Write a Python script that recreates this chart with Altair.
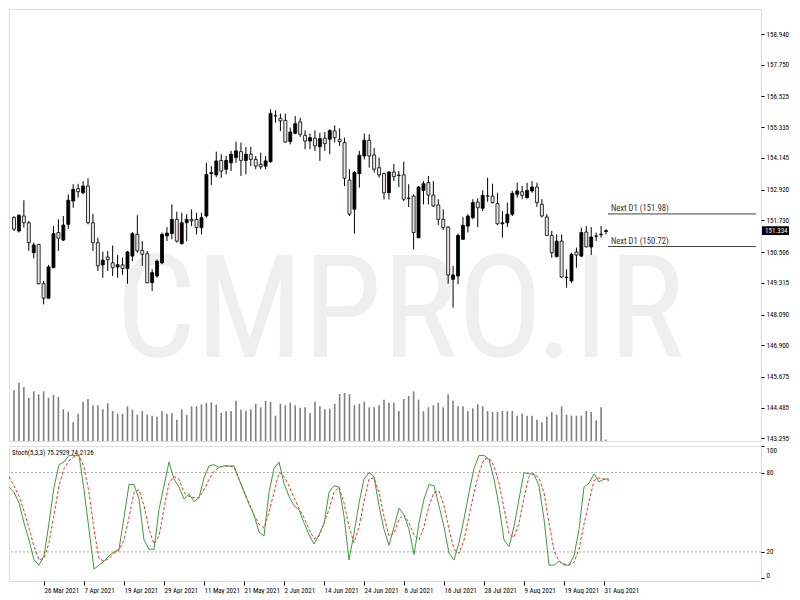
import altair as alt
import pandas as pd

# ---------------- data ----------------
OPEN = [151.84, 151.32, 151.90, 151.64, 150.48, 150.80, 149.28, 148.72, 149.90, 151.26,
        150.97, 151.58, 152.48, 152.96, 152.80, 153.06, 151.64, 150.87, 150.01, 150.31,
        150.09, 149.93, 150.01, 149.86, 150.35, 151.19, 150.57, 150.44, 149.32, 149.58,
        150.09, 151.13, 151.22, 151.77, 150.83, 151.64, 151.77, 151.77, 151.45, 151.90,
        153.54, 153.49, 154.05, 153.71, 153.96, 154.16, 154.39, 154.05, 154.29, 154.09,
        153.90, 153.83, 154.00, 155.77, 155.68, 155.60, 154.78, 155.10, 155.54, 155.02,
        154.80, 154.91, 154.58, 154.91, 154.87, 155.19, 154.87, 154.74, 153.29, 152.16,
        153.54, 154.22, 154.83, 154.26, 153.77, 153.54, 152.80, 153.60, 153.47, 153.49,
        152.59, 152.67, 151.06, 152.89, 153.19, 152.71, 152.33, 151.77, 151.47, 149.45,
        149.58, 151.00, 151.51, 151.84, 152.44, 152.20, 152.68, 152.67, 152.38, 151.60,
        151.64, 151.97, 152.74, 152.84, 152.61, 152.87, 153.02, 152.35, 151.86, 151.15,
        150.33, 150.93, 149.52, 149.39, 150.51, 150.35, 151.28, 150.70, 151.12, 151.18,
        151.30]
HIGH = [151.90, 151.97, 152.51, 151.71, 150.87, 150.81, 149.39, 150.01, 151.51, 151.77,
        151.90, 152.74, 153.13, 153.15, 153.25, 153.36, 151.99, 151.06, 150.52, 150.55,
        150.76, 150.39, 150.29, 150.55, 151.28, 151.93, 150.93, 150.55, 149.84, 150.22,
        151.26, 151.47, 152.35, 152.07, 152.03, 151.97, 152.16, 152.03, 152.03, 153.96,
        153.83, 154.39, 154.29, 154.22, 154.42, 154.78, 154.74, 154.57, 154.58, 154.22,
        154.35, 154.22, 156.03, 155.99, 155.86, 155.86, 155.32, 155.77, 155.70, 155.21,
        155.09, 155.21, 155.12, 155.15, 155.25, 155.41, 155.29, 154.93, 153.71, 153.64,
        154.42, 155.09, 155.06, 154.54, 154.16, 153.58, 153.64, 153.92, 153.64, 154.00,
        153.13, 152.74, 153.06, 153.25, 153.45, 153.25, 152.55, 152.16, 151.51, 149.97,
        151.22, 151.86, 151.97, 152.55, 152.58, 152.89, 153.38, 153.15, 152.80, 152.09,
        152.42, 152.87, 153.19, 153.06, 153.19, 153.25, 153.19, 152.55, 151.97, 151.32,
        151.19, 151.19, 149.84, 150.48, 150.68, 151.45, 151.51, 151.47, 151.26, 151.51,
        151.39]
LOW = [151.32, 151.26, 151.45, 150.55, 150.26, 149.26, 148.48, 148.70, 149.89, 150.55,
       150.93, 151.39, 152.22, 152.61, 152.74, 151.58, 150.55, 149.77, 149.51, 149.77,
       149.58, 149.51, 149.62, 149.28, 150.16, 150.48, 149.97, 149.30, 149.00, 149.51,
       150.03, 150.93, 151.00, 150.87, 150.80, 150.93, 151.51, 151.19, 151.19, 151.84,
       153.10, 153.41, 153.38, 153.51, 153.64, 153.96, 153.45, 153.51, 153.83, 153.71,
       153.71, 153.71, 153.96, 155.51, 155.19, 154.74, 154.67, 155.06, 154.96, 154.48,
       154.48, 154.42, 154.03, 154.42, 154.29, 154.74, 154.61, 153.06, 151.90, 151.22,
       153.00, 154.09, 153.77, 153.58, 153.38, 152.54, 152.54, 153.25, 153.02, 152.48,
       152.25, 150.61, 151.04, 152.35, 152.35, 152.25, 151.55, 151.35, 149.28, 148.35,
       149.26, 150.99, 151.26, 151.77, 151.47, 152.09, 152.45, 152.38, 151.55, 151.06,
       151.47, 151.90, 152.61, 152.55, 152.58, 152.80, 152.25, 151.84, 151.13, 150.29,
       150.29, 149.51, 149.13, 149.32, 149.90, 150.31, 150.68, 150.39, 150.93, 151.06,
       151.19]
CLOSE = [151.39, 151.93, 151.64, 150.87, 150.78, 149.28, 148.72, 149.93, 151.22, 151.04,
         151.55, 152.51, 152.93, 152.84, 153.06, 151.64, 150.87, 149.97, 150.19, 150.21,
         149.90, 150.02, 149.87, 150.51, 151.22, 150.55, 150.42, 149.32, 149.71, 150.16,
         151.19, 151.24, 151.77, 150.93, 151.64, 151.77, 151.71, 151.45, 151.84, 153.51,
         153.58, 154.03, 153.64, 154.05, 154.29, 154.42, 154.05, 154.29, 154.09, 153.83,
         153.80, 154.03, 155.87, 155.78, 155.58, 154.76, 155.15, 155.47, 155.06, 154.80,
         154.93, 154.61, 154.89, 154.70, 155.21, 154.93, 154.78, 153.36, 151.97, 153.58,
         154.25, 154.83, 154.22, 153.71, 153.49, 152.80, 153.60, 153.42, 153.48, 152.55,
         152.58, 151.26, 153.02, 153.15, 152.71, 152.29, 151.77, 151.45, 149.62, 149.62,
         151.15, 151.54, 151.90, 152.42, 152.22, 152.70, 152.67, 152.42, 151.60, 151.64,
         151.97, 152.78, 152.87, 152.70, 152.89, 153.02, 152.42, 151.90, 151.15, 150.48,
         150.93, 149.54, 149.53, 150.42, 150.39, 151.26, 150.71, 151.09, 151.13, 151.20,
         151.334]
VOLUME = [50700, 58300, 54000, 43300, 49700, 46700, 49700, 43300, 46300, 44000,
          31700, 29300, 18700, 27300, 39300, 42000, 35700, 35700, 31700, 37700,
          30000, 27300, 27300, 34700, 31300, 26300, 30000, 26300, 25300, 24300,
          29700, 27300, 28000, 21300, 31700, 26300, 34700, 34700, 36700, 38000,
          38700, 36300, 28000, 29700, 30000, 40300, 31300, 30300, 31700, 37300,
          33700, 40300, 39300, 25300, 37300, 35700, 38300, 35700, 33300, 33700,
          28000, 39300, 34700, 31700, 32300, 37300, 47000, 48000, 47000, 35700,
          37300, 39300, 33700, 33700, 35700, 41300, 38300, 38300, 30000, 42000,
          45000, 49700, 41300, 29700, 33700, 35700, 38300, 33700, 46700, 40300,
          34700, 34700, 30000, 32700, 36700, 34700, 30000, 29000, 29000, 30000,
          30000, 30000, 25300, 27300, 25300, 25300, 21300, 18700, 24300, 29000,
          26300, 34700, 26300, 25300, 25300, 25300, 30000, 29000, 20700, 33700,
          1500]
STOCH_K = [69, 65, 57, 42, 29, 14, 10, 17, 42, 69,
           86, 88, 93, 93, 93, 67, 37, 7, 10, 13,
           17, 20, 22, 46, 71, 71, 60, 29, 22, 22,
           52, 70, 88, 75, 69, 60, 64, 58, 61, 76,
           85, 86, 84, 85, 85, 85, 75, 66, 56, 48,
           35, 32, 65, 83, 88, 72, 62, 55, 52, 42,
           33, 26, 33, 41, 65, 70, 69, 47, 14, 34,
           57, 75, 80, 77, 55, 37, 25, 39, 53, 48,
           37, 18, 42, 60, 71, 70, 55, 39, 19, 14,
           27, 45, 65, 83, 93, 93, 90, 75, 55, 29,
           24, 39, 60, 80, 79, 79, 70, 45, 10, 10,
           13, 10, 10, 17, 37, 69, 72, 79, 73, 75,
           75.2929]
STOCH_D = [77, 70, 62, 51, 38, 24, 14, 15, 27, 48,
           70, 83, 89, 92, 93, 84, 65, 37, 15, 13,
           15, 19, 21, 29, 46, 65, 67, 55, 37, 26,
           32, 53, 72, 77, 75, 65, 62, 61, 61, 67,
           75, 81, 84, 85, 85, 84, 75, 65, 57, 48,
           41, 38, 50, 65, 80, 77, 70, 61, 53, 46,
           37, 30, 32, 42, 52, 65, 69, 57, 39, 27,
           39, 58, 75, 76, 65, 47, 32, 34, 45, 48,
           42, 33, 29, 39, 55, 65, 66, 55, 37, 22,
           19, 29, 47, 65, 80, 90, 91, 85, 72, 53,
           34, 31, 42, 61, 77, 79, 76, 65, 42, 21,
           13, 11, 10, 12, 22, 41, 58, 74, 76, 75,
           74.2126]

TICK_INDEX = [7, 15, 23, 31, 39, 47, 55, 63, 71, 79, 87, 95, 103, 111, 119]
TICK_LABELS = ["26 Mar 2021", "7 Apr 2021", "19 Apr 2021", "29 Apr 2021", "11 May 2021",
               "21 May 2021", "2 Jun 2021", "14 Jun 2021", "24 Jun 2021", "6 Jul 2021",
               "16 Jul 2021", "28 Jul 2021", "9 Aug 2021", "19 Aug 2021", "31 Aug 2021"]
PRICE_TICKS = [158.940, 157.750, 156.525, 155.335, 154.145, 152.920, 151.730,
               150.506, 149.315, 148.090, 146.900, 145.675, 144.485, 143.295]
STOCH_TICKS = [0, 20, 80, 100]
STOCH_LEVELS = [80, 20]
NEXT_LEVELS = [151.98, 150.72]
LAST_PRICE = 151.334
STOCH_LABEL = "Stoch(5,3,3) 75.2929 74.2126"
WATERMARK = "CMPRO.IR"

# ---------------- build ----------------
FONT = "Roboto Condensed, Liberation Sans Narrow, Liberation Sans, sans-serif"
W, H_MAIN, H_STOCH = 752, 432, 135
X_END = W / 5.0

df = pd.DataFrame({"i": list(range(len(OPEN))), "open": OPEN, "high": HIGH,
                   "low": LOW, "close": CLOSE, "vol": VOLUME,
                   "k": STOCH_K, "d": STOCH_D})
df["lo_body"] = df[["open", "close"]].min(axis=1)
df["hi_body"] = df[["open", "close"]].max(axis=1)
df["zero"] = 0
df["dir"] = ["up" if c >= o else "down" for o, c in zip(df["open"], df["close"])]

x_scale = alt.Scale(domain=[0, X_END], nice=False, zero=False)
price_scale = alt.Scale(domain=[143.198, 159.907], nice=False, zero=False)
stoch_scale = alt.Scale(domain=[-2, 100.1], nice=False, zero=False)

price_axis = alt.Axis(orient="right", values=PRICE_TICKS, format=".3f", tickSize=3,
                      labelPadding=2, labelFontSize=7, labelFont=FONT, grid=False,
                      domain=False, title=None, labelOverlap=False, tickColor="black",
                      labelColor="black")

XM = alt.X("i:Q", scale=x_scale, axis=None)


def PY(field, axis=None):
    return alt.Y(field, type="quantitative", scale=price_scale, axis=axis)


base = alt.Chart(df)

wm_df = pd.DataFrame({"t": [WATERMARK], "xi": [78.2], "py": [146.45]})
watermark = alt.Chart(wm_df).mark_text(
    font=FONT, fontSize=142, color="#efefef", align="center", baseline="alphabetic"
).encode(x=alt.X("xi:Q", scale=x_scale, axis=None), y=PY("py"), text="t:N")

wicks = base.mark_rule(color="black", strokeWidth=1, clip=True).encode(
    x=XM, y=PY("low", price_axis), y2="high:Q")

bodies = base.mark_bar(size=3, stroke="black", strokeWidth=0.8, clip=True).encode(
    x=XM, y=PY("lo_body"), y2="hi_body:Q",
    fill=alt.Fill("dir:N", scale=alt.Scale(domain=["up", "down"], range=["#000000", "#efe4e4"]),
                  legend=None))

next_df = pd.DataFrame({"level": NEXT_LEVELS,
                        "label": [f"Next D1 ({v:.2f})" for v in NEXT_LEVELS],
                        "x0": [120.4, 120.4], "x1": [X_END, X_END], "xt": [121.0, 121.0]})
next_rules = alt.Chart(next_df).mark_rule(color="#404040", strokeWidth=1).encode(
    x=alt.X("x0:Q", scale=x_scale, axis=None), x2="x1:Q", y=PY("level"))
next_text = alt.Chart(next_df).mark_text(
    font=FONT, fontSize=8.6, color="#333333", align="left", baseline="bottom", dy=-1
).encode(x=alt.X("xt:Q", scale=x_scale, axis=None), y=PY("level"), text="label:N")

last_df = pd.DataFrame({"p": [LAST_PRICE], "p_hi": [LAST_PRICE + 0.17],
                        "p_lo": [LAST_PRICE - 0.17], "lbl": [f"{LAST_PRICE:.3f}"]})
last_box = alt.Chart(last_df).mark_rect(color="black").encode(
    x=alt.value(W + 1), x2=alt.value(W + 28), y=PY("p_hi"), y2="p_lo:Q")
last_text = alt.Chart(last_df).mark_text(
    font=FONT, fontSize=7, color="white", align="left", baseline="middle"
).encode(x=alt.value(W + 4), y=PY("p"), text="lbl:N")

volume = base.mark_rule(color="#7f7f7f", strokeWidth=1.6, clip=True).encode(
    x=XM, y=alt.Y("vol:Q", scale=alt.Scale(domain=[0, 432000], nice=False), axis=None),
    y2="zero:Q")

main = alt.layer(watermark, volume, wicks, bodies, next_rules, next_text, last_box,
                 last_text).resolve_scale(y="independent").properties(width=W, height=H_MAIN)

# ---------------- stochastic panel ----------------
label_expr = "[" + ",".join(f"'{t}'" for t in TICK_LABELS) + "][(datum.value - 7) / 8]"
XS = alt.X("i:Q", scale=x_scale,
           axis=alt.Axis(values=TICK_INDEX, labelExpr=label_expr, labelAlign="left",
                         tickSize=4, labelPadding=1, labelFontSize=7, labelFont=FONT,
                         grid=False, domain=False, title=None, labelOverlap=False,
                         labelFlush=False, labelBound=False, tickColor="black",
                         labelColor="black"))
stoch_axis = alt.Axis(orient="right", values=STOCH_TICKS, tickSize=3, labelPadding=2,
                      labelFontSize=7, labelFont=FONT, grid=False, domain=False,
                      title=None, labelOverlap=False, labelFlush=4, tickColor="black",
                      labelColor="black")

levels = alt.Chart(pd.DataFrame({"lv": STOCH_LEVELS})).mark_rule(
    color="#a8a8a8", strokeWidth=1, strokeDash=[2, 2]
).encode(y=alt.Y("lv:Q", scale=stoch_scale, axis=stoch_axis))

k_line = base.mark_line(color="#3c9c3c", strokeWidth=1, clip=True).encode(
    x=XS, y=alt.Y("k:Q", scale=stoch_scale, axis=stoch_axis))
d_line = base.mark_line(color="#ff2a2a", strokeWidth=1, strokeDash=[3, 2], clip=True).encode(
    x=XS, y=alt.Y("d:Q", scale=stoch_scale, axis=stoch_axis))

stoch_lbl = alt.Chart(pd.DataFrame({"t": [STOCH_LABEL]})).mark_text(
    font=FONT, fontSize=7, color="black", align="left", baseline="top"
).encode(x=alt.value(3), y=alt.value(3), text="t:N")

stoch = alt.layer(levels, d_line, k_line, stoch_lbl).properties(width=W, height=H_STOCH)

chart = alt.vconcat(main, stoch, spacing=3).properties(padding=0).configure_view(
    stroke="black", strokeWidth=1, fill="white"
).configure(background="white")

chart.save("out.html", embed_options={"renderer": "svg", "actions": False})
